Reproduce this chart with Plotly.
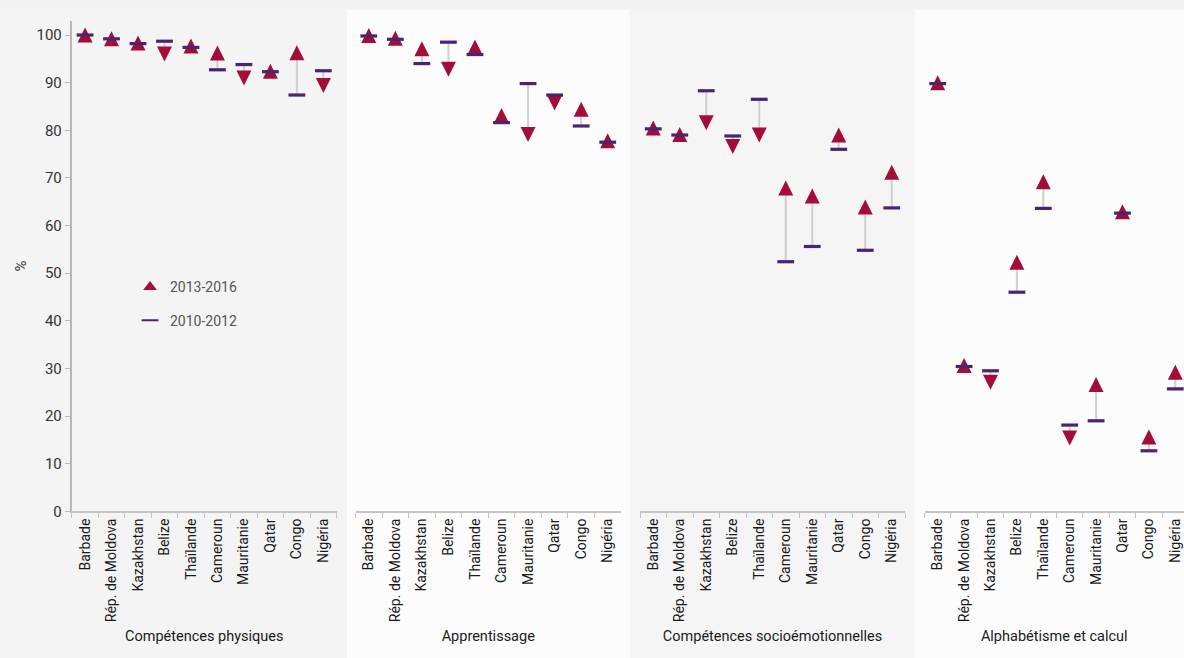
import plotly.graph_objects as go

countries = ["Barbade", "Rép. de Moldova", "Kazakhstan", "Belize", "Thaïlande",
             "Cameroun", "Mauritanie", "Qatar", "Congo", "Nigéria"]
domains = ["Compétences physiques", "Apprentissage",
           "Compétences socioémotionnelles", "Alphabétisme et calcul"]
yticks = [0, 10, 20, 30, 40, 50, 60, 70, 80, 90, 100]

# 2013-2016 (triangles)
recent_physique = [100.0, 99.2, 98.3, 96.0, 97.7, 96.2, 91.0, 92.4, 96.3, 89.4]
recent_apprentissage = [99.9, 99.3, 97.1, 92.8, 97.5, 83.1, 79.1, 85.7, 84.4, 77.8]
recent_socio = [80.5, 79.1, 81.6, 76.6, 79.0, 67.9, 66.2, 79.0, 63.9, 71.2]
recent_alpha = [90.0, 30.6, 27.1, 52.3, 69.2, 15.4, 26.6, 62.9, 15.6, 29.2]

# 2010-2012 (dashes)
early_physique = [100.0, 99.2, 98.2, 98.7, 97.4, 92.7, 93.8, 92.3, 87.4, 92.5]
early_apprentissage = [99.8, 99.1, 94.0, 98.5, 95.9, 81.6, 89.8, 87.4, 80.9, 77.5]
early_socio = [80.3, 79.0, 88.3, 78.8, 86.5, 52.4, 55.6, 76.0, 54.8, 63.7]
early_alpha = [89.8, 30.4, 29.5, 46.0, 63.6, 18.1, 19.0, 62.6, 12.7, 25.7]

recent = [recent_physique, recent_apprentissage, recent_socio, recent_alpha]
early = [early_physique, early_apprentissage, early_socio, early_alpha]

RED = "#a30d38"
PURPLE = "#472570"
GREY_LINE = "#cfcfcf"
FONT = "Liberation Sans Narrow, Roboto, Liberation Sans, Arial, sans-serif"

W, H_REF = 1184, 658
FIG_H = 668
px_x = lambda p: p / W
px_y = lambda p: 1 - p / H_REF

x_pix = [(71.8, 336.6), (355.5, 621.0), (640.0, 905.0), (924.5, 1184.0)]
x_rng = [[-0.5, 9.5], [-0.5, 9.5], [-0.5, 9.5], [-0.5, 9.33]]
panel_pix = [(0, 347), (347, 630), (630, 915), (915, 1184)]
panel_col = ["#f4f4f4", "#fcfcfc", "#f5f5f5", "#fcfcfc"]

fig = go.Figure()

# connectors
for k in range(4):
    xs, ys = [], []
    for c, a, b in zip(countries, early[k], recent[k]):
        xs += [c, c, None]
        ys += [a, b, None]
    fig.add_trace(go.Scatter(
        x=xs, y=ys, mode="lines", xaxis="x" if k == 0 else f"x{k+1}", yaxis="y",
        line=dict(color=GREY_LINE, width=2), showlegend=False, hoverinfo="skip",
        cliponaxis=False))

# triangles (centred on the value)
for k in range(4):
    angles = [180 if r >= e else 0 for r, e in zip(recent[k], early[k])]
    fig.add_trace(go.Scatter(
        x=countries, y=recent[k], mode="markers",
        xaxis="x" if k == 0 else f"x{k+1}", yaxis="y",
        name="2013-2016", showlegend=False,
        marker=dict(symbol="arrow-down", size=15, angle=angles, standoff=7.5,
                    color=RED, line=dict(width=0)),
        cliponaxis=False))

# dashes
for k in range(4):
    fig.add_trace(go.Scatter(
        x=countries, y=early[k], mode="markers",
        xaxis="x" if k == 0 else f"x{k+1}", yaxis="y",
        name="2010-2012", showlegend=False,
        marker=dict(symbol="line-ew", size=12,
                    line=dict(color=PURPLE, width=3.2)),
        cliponaxis=False))

# legend entries
fig.add_trace(go.Scatter(x=[None], y=[None], mode="markers", name="2013-2016",
                         legendgroup="recent",
                         marker=dict(symbol="triangle-up", size=15, color=RED)))
fig.add_trace(go.Scatter(x=[None], y=[None], mode="markers", name="2010-2012",
                         legendgroup="early",
                         marker=dict(symbol="line-ew", size=12,
                                     line=dict(color=PURPLE, width=3.2))))

shapes = []
for (a, b), col in zip(panel_pix, panel_col):
    shapes.append(dict(type="rect", xref="paper", yref="paper",
                       x0=px_x(a), x1=px_x(b), y0=0, y1=px_y(10),
                       fillcolor=col, line=dict(width=0), layer="below"))

layout = dict(
    width=W, height=FIG_H,
    margin=dict(l=0, r=0, t=0, b=0),
    paper_bgcolor="#f3f3f3",
    plot_bgcolor="rgba(0,0,0,0)",
    font=dict(family=FONT, color="#222"),
    shapes=shapes,
    showlegend=True,
    legend=dict(x=px_x(130), y=px_y(271), xanchor="left", yanchor="top",
                bgcolor="rgba(0,0,0,0)", font=dict(size=14, color="#555"),
                tracegroupgap=12, itemsizing="constant"),
    yaxis=dict(
        domain=[px_y(510.5), px_y(20.7)], range=[0, 103],
        anchor="x", tickmode="array", tickvals=yticks,
        showline=True, linecolor="#b8b8b8", linewidth=2,
        ticks="outside", ticklen=5, tickcolor="#b8b8b8", tickwidth=1,
        showgrid=False, zeroline=False,
        tickfont=dict(size=15, color="#333"),
        title=dict(text="%", font=dict(size=15, color="#333"), standoff=6),
    ),
)

for k in range(4):
    name = "xaxis" if k == 0 else f"xaxis{k+1}"
    a, b = x_pix[k]
    layout[name] = dict(
        domain=[px_x(a), px_x(b)], range=x_rng[k], anchor="y",
        type="category", categoryorder="array", categoryarray=countries,
        showline=True, linecolor="#c4c4c4", linewidth=1.5,
        ticks="outside", tickson="boundaries", ticklen=5, tickcolor="#c4c4c4",
        showgrid=False, zeroline=False, tickangle=-90,
        tickfont=dict(size=14, color="#1a1a1a"),
        title=dict(text=domains[k], font=dict(size=14.5, color="#1a1a1a"), standoff=10),
    )

fig.update_layout(**layout)

page_js = (
    "var h=document.documentElement.style;h.margin='0';h.padding='0';"
    "h.background='#f3f3f3';"
    "var b=document.body.style;b.margin='0';b.padding='0';"
    "b.overflow='hidden';b.background='#f3f3f3';"
)
fig.write_html("out.html", config={"displayModeBar": False}, post_script=page_js)
